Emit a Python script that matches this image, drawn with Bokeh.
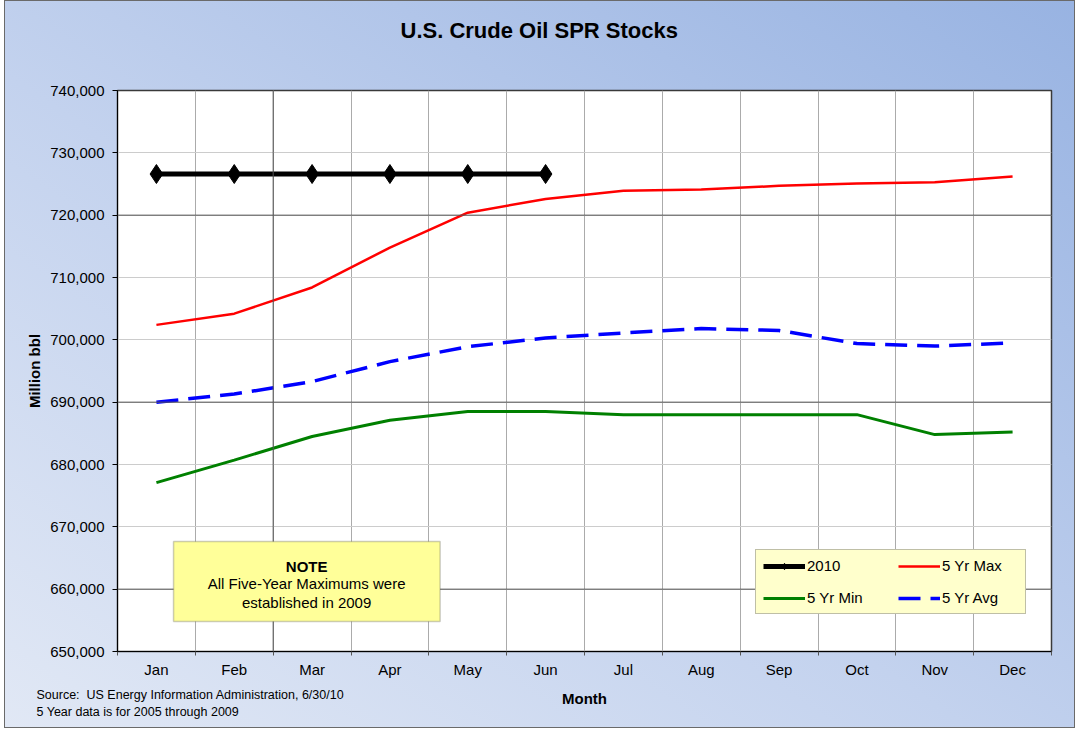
from bokeh.plotting import figure
from bokeh.models import (Range1d, FixedTicker, NumeralTickFormatter, Label,
                          BoxAnnotation, Legend, LegendItem, Span, Title)
from bokeh.embed import file_html
from bokeh.resources import INLINE

# ---------------- data ----------------
months = ["Jan", "Feb", "Mar", "Apr", "May", "Jun",
          "Jul", "Aug", "Sep", "Oct", "Nov", "Dec"]
stocks_2010 = [726600, 726600, 726600, 726600, 726600, 726600]
max_5yr = [702400, 704200, 708400, 714800, 720400, 722600,
           723900, 724100, 724700, 725100, 725300, 726200]
min_5yr = [677100, 680700, 684500, 687100, 688500, 688500,
           688000, 688000, 688000, 688000, 684800, 685200]
avg_5yr = [690000, 691300, 693300, 696500, 698900, 700300,
           701100, 701800, 701500, 699400, 699000, 699500]
y_ticks = [650000, 660000, 670000, 680000, 690000,
           700000, 710000, 720000, 730000, 740000]
y_major_lines = [660000, 690000, 720000]

FONT = "Liberation Sans"
W, H = 1071, 728

x_all = [i + 0.5 for i in range(len(months))]
x_2010 = x_all[:len(stocks_2010)]

p = figure(width=W, height=H, x_range=Range1d(0, 12),
           y_range=Range1d(650000, 740000),
           output_backend="svg", toolbar_location=None,
           min_border_left=112, min_border_right=25,
           min_border_top=89, min_border_bottom=78,
           background_fill_color="white", border_fill_color=None)
p.title_location = None
p.styles = {
    "background-image": "linear-gradient(to top right, #e1e8f5 0%, #c3d2ee 45%, #98b3e2 100%)",
    "border": "1px solid #6a6a6a",
    "margin-left": "4px",
    "margin-top": "0px",
    "box-sizing": "border-box",
}
p.outline_line_color = "#3a3a3a"
p.outline_line_width = 1.5

# title: a spacer title next to the frame, then the real title further out
spacer = Title(text=" ", text_font=FONT, text_font_size="1px", standoff=45)
main_title = Title(text="U.S. Crude Oil SPR Stocks", align="left", offset=283,
                   standoff=0, text_font=FONT, text_font_size="22px",
                   text_font_style="bold", text_color="black")
p.add_layout(spacer, "above")
p.add_layout(main_title, "above")

# axes
xa = p.xaxis[0]
xa.ticker = FixedTicker(ticks=x_all, minor_ticks=list(range(13)))
xa.major_label_overrides = {x: m for x, m in zip(x_all, months)}
xa.major_tick_line_color = None
xa.major_tick_out = 0
xa.major_tick_in = 0
xa.minor_tick_out = 4
xa.minor_tick_in = 0
xa.minor_tick_line_color = "#555555"
xa.axis_line_color = "black"
xa.major_label_text_font = FONT
xa.major_label_text_font_size = "15px"
xa.major_label_text_color = "black"
xa.major_label_standoff = 5
xa.axis_label = "Month"
xa.axis_label_text_font = FONT
xa.axis_label_text_font_size = "15px"
xa.axis_label_text_font_style = "bold"
xa.axis_label_text_color = "black"
xa.axis_label_standoff = 9

ya = p.yaxis[0]
ya.ticker = FixedTicker(ticks=y_ticks)
ya.formatter = NumeralTickFormatter(format="0,0")
ya.major_tick_out = 5
ya.major_tick_in = 0
ya.minor_tick_line_color = None
ya.axis_line_color = "black"
ya.major_label_text_font = FONT
ya.major_label_text_font_size = "15px"
ya.major_label_text_color = "black"
ya.major_label_standoff = 8
ya.axis_label = "Million bbl"
ya.axis_label_text_font = FONT
ya.axis_label_text_font_size = "15px"
ya.axis_label_text_font_style = "bold"
ya.axis_label_text_color = "black"
ya.axis_label_standoff = 4

# grids
p.xgrid.ticker = FixedTicker(ticks=list(range(13)))
p.xgrid.grid_line_color = "#ababab"
p.ygrid.ticker = FixedTicker(ticks=y_ticks)
p.ygrid.grid_line_color = "#cccccc"
for yv in y_major_lines:
    p.add_layout(Span(location=yv, dimension="width", line_color="#555555", line_width=1))
p.add_layout(Span(location=2, dimension="height", line_color="#555555", line_width=1))

# note box
p.add_layout(BoxAnnotation(left=0.72, right=4.145, bottom=654800, top=667640,
                           fill_color="#FFFF99", fill_alpha=1.0,
                           line_color="#555555", line_width=1.5, level="annotation"))
note_lines = [("NOTE", "bold", 663620),
              ("All Five-Year Maximums were", "normal", 660920),
              ("established in 2009", "normal", 657920)]
for txt, style, yv in note_lines:
    p.add_layout(Label(x=2.43, y=yv, text=txt, text_align="center",
                       text_baseline="middle", text_font=FONT,
                       text_font_size="15px", text_font_style=style,
                       text_color="black"))

# series
r_max = p.line(x_all, max_5yr, line_color="#FF0000", line_width=2.5)
r_min = p.line(x_all, min_5yr, line_color="#008000", line_width=3)
r_avg = p.line(x_all, avg_5yr, line_color="#0000FF", line_width=3.5, line_dash="22 10")
r_2010 = p.line(x_2010, stocks_2010, line_color="black", line_width=5)
# small-marker twin of the 2010 points (hidden below the big ones) for the legend
lg_2010_mark = p.scatter(x_2010, stocks_2010, marker="diamond", size=9,
                         fill_color="black", line_color="black")
s_2010 = p.scatter(x_2010, stocks_2010, marker="diamond", size=19,
                   fill_color="black", line_color="black")

legend = Legend(items=[
    LegendItem(label="2010", renderers=[r_2010, lg_2010_mark]),
    LegendItem(label="5 Yr Max", renderers=[r_max]),
    LegendItem(label="5 Yr Min", renderers=[r_min]),
    LegendItem(label="5 Yr Avg", renderers=[r_avg]),
], location=(638, 37), orientation="horizontal", ncols=2)
legend.background_fill_color = "#FFFFCC"
legend.background_fill_alpha = 1.0
legend.border_line_color = "#808080"
legend.border_line_width = 1.5
legend.label_text_font = FONT
legend.label_text_font_size = "15px"
legend.label_text_color = "black"
legend.glyph_width = 42
legend.glyph_height = 16
legend.label_height = 16
legend.label_width = 76
legend.label_standoff = 2
legend.spacing = 15
legend.padding = 7
legend.margin = 0
p.add_layout(legend, "center")

# source notes: one two-line title in the bottom panel (side panels are not clipped)
src = Title(text="Source:\u00a0 US Energy Information Administration, 6/30/10\n"
                 "5 Year data is for 2005 through 2009",
            align="left", offset=-81, standoff=-44, vertical_align="top",
            text_font=FONT, text_font_size="12.5px", text_font_style="normal",
            text_line_height=1.26, text_color="black")
p.add_layout(src, "below")

with open("out.html", "w") as f:
    f.write(file_html(p, INLINE))
